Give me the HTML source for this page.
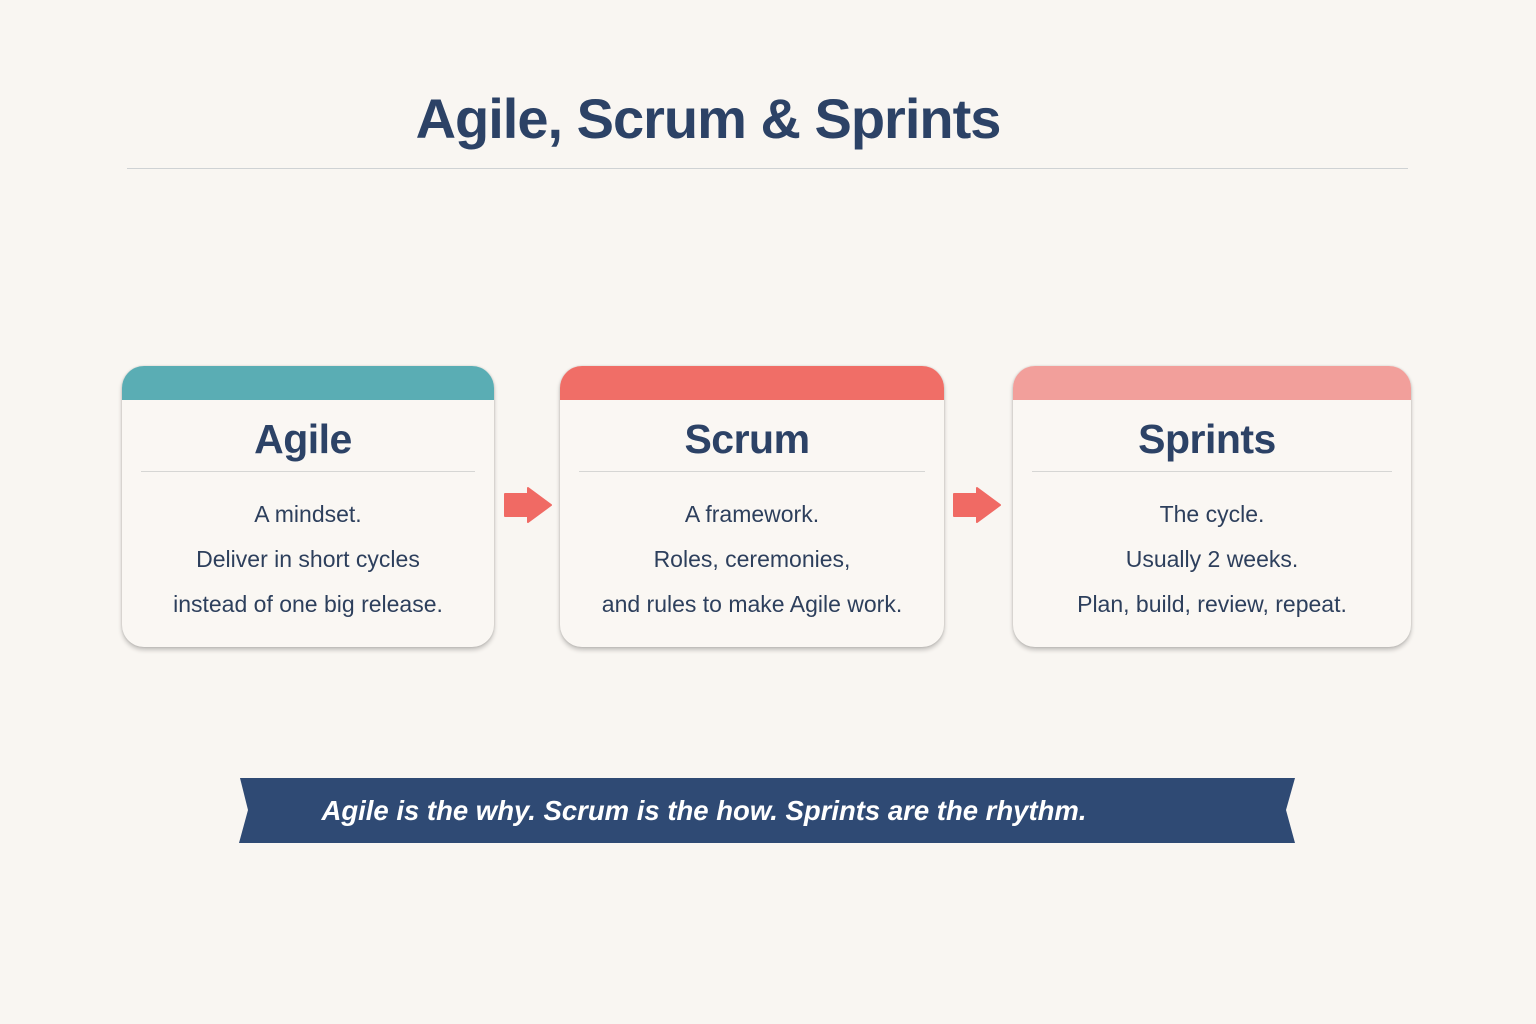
<!DOCTYPE html>
<html><head><meta charset="utf-8"><style>
body{margin:0;width:1536px;height:1024px;background:#f9f6f2;position:relative;overflow:hidden;font-family:"Liberation Sans",sans-serif;color:#2c4266}
.t{position:absolute;left:0;width:1416px;text-align:center;top:86px;font-size:56px;font-weight:bold;letter-spacing:-1px}
.hr{position:absolute;left:127px;width:1281px;top:168px;height:1px;background:#cfd2d4}
.card{position:absolute;top:366px;height:281px;background:#faf7f3;border-radius:22px;box-shadow:0 3px 5px rgba(0,0,0,.22),0 0 2px rgba(0,0,0,.15);overflow:hidden;text-align:center}
.h{height:34px}
.n{font-size:41px;font-weight:bold;margin:14px 10px 0 0;line-height:50px;letter-spacing:-.5px}
.l{height:1px;background:#d6d6d4;margin:7px 19px 20px}
.p{font-size:23px;line-height:45px;color:#2d3f5c}
.ar{position:absolute;top:486px}
</style></head><body>
<div class="t">Agile, Scrum &amp; Sprints</div>
<div class="hr"></div>
<div class="card" style="left:122px;width:372px"><div class="h" style="background:#5aadb4"></div><div class="n">Agile</div><div class="l"></div><div class="p">A mindset.<br>Deliver in short cycles<br>instead of one big release.</div></div>
<div class="card" style="left:560px;width:384px"><div class="h" style="background:#f06e67"></div><div class="n">Scrum</div><div class="l"></div><div class="p">A framework.<br>Roles, ceremonies,<br>and rules to make Agile work.</div></div>
<div class="card" style="left:1013px;width:398px"><div class="h" style="background:#f29f9b"></div><div class="n">Sprints</div><div class="l"></div><div class="p">The cycle.<br>Usually 2 weeks.<br>Plan, build, review, repeat.</div></div>
<svg class="ar" style="left:504px" width="50" height="40"><path d="M1 8 H24 V2 L47 19 L24 36 V30 H1 Z" fill="#f06a64" stroke="#f06a64" stroke-width="2" stroke-linejoin="round"/></svg>
<svg class="ar" style="left:953px" width="50" height="40"><path d="M1 8 H24 V2 L47 19 L24 36 V30 H1 Z" fill="#f06a64" stroke="#f06a64" stroke-width="2" stroke-linejoin="round"/></svg>
<svg style="position:absolute;left:0;top:0" width="1536" height="1024"><polygon points="240,778 1295,778 1286,810 1295,843 239,843 248,810" fill="#2f4a74"/><text x="704" y="820" text-anchor="middle" font-family="Liberation Sans, sans-serif" font-style="italic" font-weight="bold" font-size="27.5" fill="#fff">Agile is the why. Scrum is the how. Sprints are the rhythm.</text></svg>
</body></html>
